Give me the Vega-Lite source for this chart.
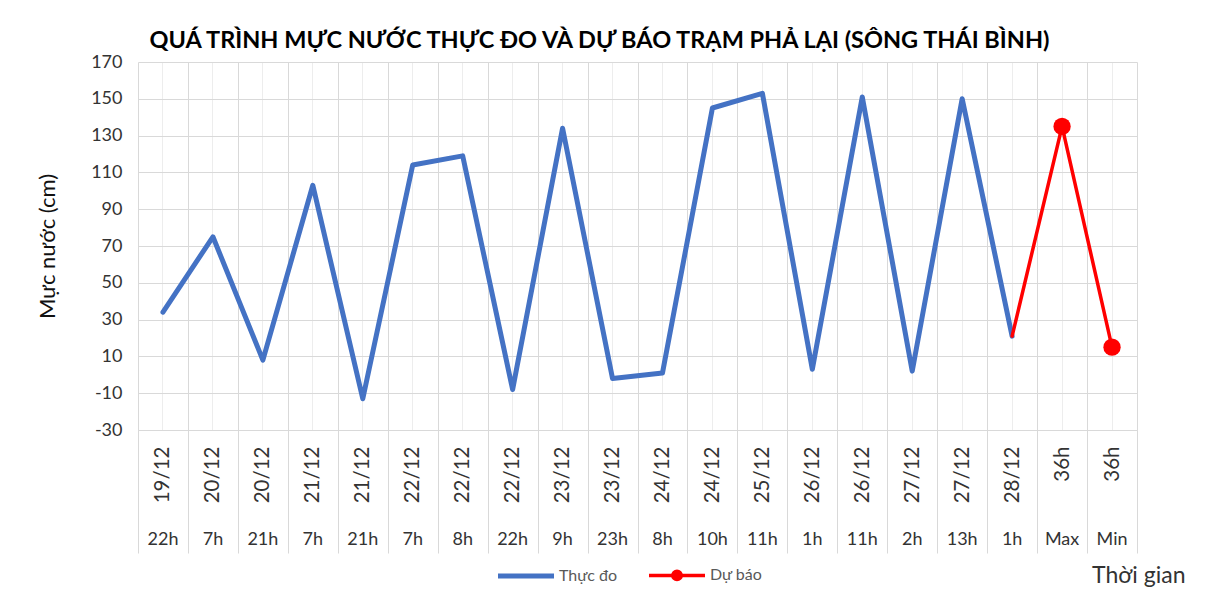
{
  "$schema": "https://vega.github.io/schema/vega-lite/v6.json",
  "width": 999,
  "height": 368,
  "autosize": {"type": "none"},
  "padding": {"left": 138, "top": 62, "right": 70, "bottom": 161},
  "background": "white",
  "title": {
    "text": "QUÁ TRÌNH MỰC NƯỚC THỰC ĐO VÀ DỰ BÁO TRẠM PHẢ LẠI (SÔNG THÁI BÌNH)",
    "font": "Lato",
    "fontSize": 23.5,
    "fontWeight": "bold",
    "color": "#000000",
    "anchor": "middle",
    "dx": -38,
    "offset": 1
  },
  "config": {"view": {"stroke": null}, "font": "Lato"},
  "data": {
    "values": [
      {"t": "19/12 22h", "v": 34, "s": "Thực đo"},
      {"t": "20/12 7h", "v": 75, "s": "Thực đo"},
      {"t": "20/12 21h", "v": 8, "s": "Thực đo"},
      {"t": "21/12 7h", "v": 103, "s": "Thực đo"},
      {"t": "21/12 21h", "v": -13, "s": "Thực đo"},
      {"t": "22/12 7h", "v": 114, "s": "Thực đo"},
      {"t": "22/12 8h", "v": 119, "s": "Thực đo"},
      {"t": "22/12 22h", "v": -8, "s": "Thực đo"},
      {"t": "23/12 9h", "v": 134, "s": "Thực đo"},
      {"t": "23/12 23h", "v": -2, "s": "Thực đo"},
      {"t": "24/12 8h", "v": 1, "s": "Thực đo"},
      {"t": "24/12 10h", "v": 145, "s": "Thực đo"},
      {"t": "25/12 11h", "v": 153, "s": "Thực đo"},
      {"t": "26/12 1h", "v": 3, "s": "Thực đo"},
      {"t": "26/12 11h", "v": 151, "s": "Thực đo"},
      {"t": "27/12 2h", "v": 2, "s": "Thực đo"},
      {"t": "27/12 13h", "v": 150, "s": "Thực đo"},
      {"t": "28/12 1h", "v": 21, "s": "Thực đo"},
      {"t": "28/12 1h", "v": 21, "s": "Dự báo"},
      {"t": "36h Max", "v": 135, "s": "Dự báo"},
      {"t": "36h Min", "v": 15, "s": "Dự báo"}
    ]
  },
  "encoding": {
    "y": {
      "field": "v",
      "type": "quantitative",
      "scale": {"domain": [-30, 170], "nice": false, "zero": false},
      "axis": {
        "title": "Mực nước (cm)",
        "values": [-30, -10, 10, 30, 50, 70, 90, 110, 130, 150, 170],
        "labelExpr": "'' + datum.value",
        "grid": true,
        "gridColor": "#D9D9D9",
        "domain": false,
        "ticks": false,
        "labelFont": "Lato",
        "labelFontSize": 18,
        "labelColor": "#333333",
        "labelPadding": 16,
        "titleFont": "Lato",
        "titleFontSize": 22,
        "titleFontWeight": "normal",
        "titleColor": "#111111",
        "titlePadding": 31
      }
    }
  },
  "layer": [
    {
      "transform": [{"filter": "datum.s === 'Thực đo'"}],
      "mark": {"type": "line", "strokeWidth": 5, "strokeJoin": "round", "strokeCap": "round"},
      "encoding": {
        "x": {
          "field": "t",
          "type": "nominal",
          "scale": {
            "type": "band",
            "paddingInner": 0,
            "paddingOuter": 0,
            "domain": ["19/12 22h", "20/12 7h", "20/12 21h", "21/12 7h", "21/12 21h", "22/12 7h", "22/12 8h", "22/12 22h", "23/12 9h", "23/12 23h", "24/12 8h", "24/12 10h", "25/12 11h", "26/12 1h", "26/12 11h", "27/12 2h", "27/12 13h", "28/12 1h", "36h Max", "36h Min"]
          },
          "axis": {
            "title": null,
            "labelExpr": "split(datum.label, ' ')[0]",
            "labelAngle": 270,
            "labelAlign": "right",
            "labelBaseline": "middle",
            "labelFont": "Lato",
            "labelFontSize": 20.5,
            "labelColor": "#333333",
            "labelPadding": -107,
            "tickBand": "extent",
            "tickSize": 123,
            "tickColor": "#D9D9D9",
            "tickWidth": 1,
            "grid": true,
            "gridColor": "#D9D9D9",
            "domain": true,
            "domainColor": "#D9D9D9"
          }
        },
        "color": {
          "field": "s",
          "type": "nominal",
          "scale": {"domain": ["Thực đo", "Dự báo"], "range": ["#4472C4", "#FF0000"]},
          "legend": {
            "orient": "none",
            "legendX": 380,
            "legendY": 505,
            "direction": "horizontal",
            "title": null,
            "symbolType": "stroke",
            "symbolSize": 3136,
            "symbolStrokeWidth": 5,
            "labelFont": "Lato",
            "labelFontSize": 16,
            "labelColor": "#595959",
            "columnPadding": 24,
            "labelOffset": 25,
            "encode": {
              "symbols": {
                "update": {
                  "shape": {"signal": "datum.value === 'Dự báo' ? 'M -1 0 L 1 0 M -0.15 0 A 0.15 0.15 0 1 0 0.15 0 A 0.15 0.15 0 1 0 -0.15 0' : 'stroke'"},
                  "fill": {"signal": "datum.value === 'Dự báo' ? '#FF0000' : 'transparent'"},
                  "strokeWidth": {"signal": "datum.value === 'Dự báo' ? 3.5 : 5"}
                }
              }
            }
          }
        }
      }
    },
    {
      "transform": [{"filter": "datum.s === 'Dự báo'"}],
      "mark": {"type": "line", "strokeWidth": 3.5, "strokeJoin": "round", "strokeCap": "round"},
      "encoding": {
        "x": {"field": "t", "type": "nominal", "axis": null},
        "color": {"field": "s", "type": "nominal"}
      }
    },
    {
      "transform": [{"filter": "datum.s === 'Dự báo' && datum.t !== '28/12 1h'"}],
      "mark": {"type": "circle", "size": 300, "opacity": 1, "color": "#FF0000"},
      "encoding": {
        "x": {"field": "t", "type": "nominal", "axis": null}
      }
    },
    {
      "mark": {"type": "line", "opacity": 0},
      "encoding": {
        "x": {
          "field": "t",
          "type": "nominal",
          "axis": {
            "orient": "bottom",
            "offset": 98,
            "labelExpr": "split(datum.label, ' ')[1]",
            "labelAngle": 0,
            "labelFont": "Lato",
            "labelFontSize": 18,
            "labelColor": "#333333",
            "labelPadding": 2,
            "ticks": false,
            "domain": false,
            "grid": true,
            "gridColor": "#EDEDED",
            "title": "Thời gian",
            "titleFont": "Lato",
            "titleFontSize": 23,
            "titleFontWeight": "normal",
            "titleColor": "#333333",
            "titleX": 1047,
            "titleY": 47,
            "titleAlign": "right",
            "titleBaseline": "middle"
          }
        },
        "detail": {"field": "s", "type": "nominal"}
      }
    }
  ],
  "resolve": {"axis": {"x": "independent"}}
}
